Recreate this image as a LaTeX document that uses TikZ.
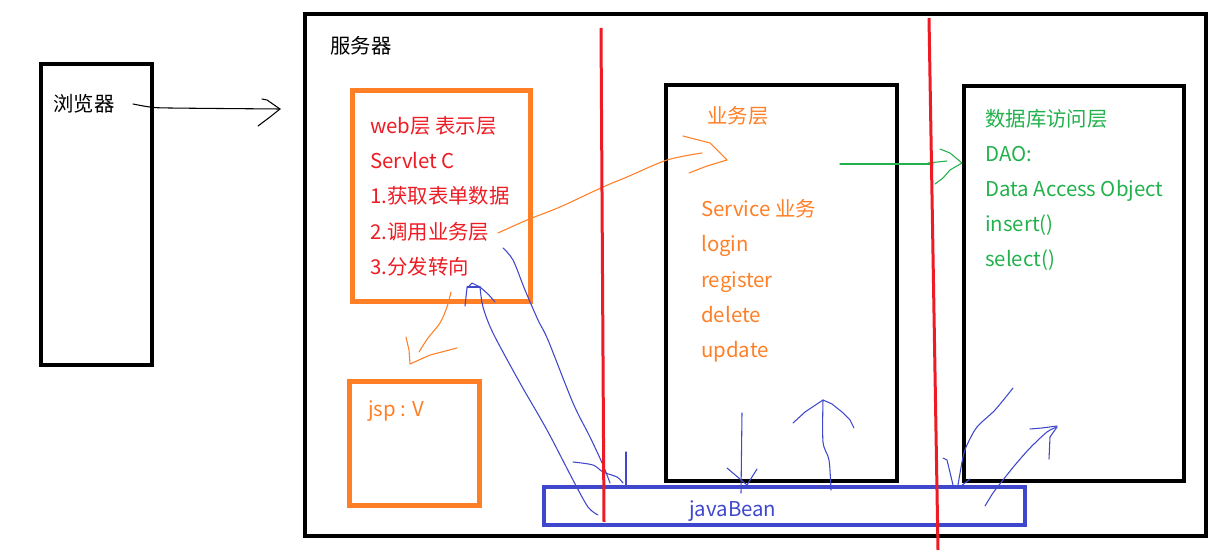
\documentclass[tikz,border=0pt]{standalone}
\usepackage{fontspec}
\setmainfont{Noto Sans CJK SC}
\definecolor{paintred}{HTML}{ED1C24}
\definecolor{paintorange}{HTML}{FF7F27}
\definecolor{paintgreen}{HTML}{22B14C}
\definecolor{paintblue}{HTML}{3F48CC}

\begin{document}
\begin{tikzpicture}[
    x=0.75pt, y=-0.75pt,
    frame/.style={line width=3pt, line join=miter},
    thickframe/.style={line width=3.75pt, line join=miter},
    sketch/.style={line width=0.8pt, line join=round, line cap=round},
    divider/.style={line width=2.25pt, paintred},
    lbl/.style={anchor=base west, inner sep=0pt, font=\fontsize{15.3}{17}\selectfont}
]

\useasboundingbox (0,0) rectangle (1228,556);

% 1. Browser and server frames
\draw[frame] (41,64) rectangle (152,365);
\draw[frame] (305,14) rectangle (1206,536);
\node[lbl] (browserlbl) at (53,112) {浏览器};
\node[lbl] (serverlbl) at (330,54) {服务器};

% 2. Web layer and jsp
\draw[thickframe, paintorange] (352,91) rectangle (530,301);
\draw[thickframe, paintorange] (349,381) rectangle (479,505);
\foreach \t [count=\i from 0] in {web层 表示层, Servlet C, 1.获取表单数据, 2.调用业务层, 3.分发转向}
    \node[lbl, paintred] (web\i) at (370,134+35*\i) {\t};
\node[lbl, paintorange] (jsp) at (368,416) {jsp : V};

% 3. Service and DAO layers
\draw[frame] (666,85) rectangle (897,481);
\draw[frame] (964,86) rectangle (1184,481);
\node[lbl, paintorange] (svctitle) at (707,124) {业务层};
\foreach \t [count=\i from 0] in {Service 业务, login, register, delete, update}
    \node[lbl, paintorange] (svc\i) at (701,217+35*\i) {\t};
\foreach \t [count=\i from 0] in {数据库访问层, DAO:, Data Access Object, insert(), select()}
    \node[lbl, paintgreen] (dao\i) at (985,127+35*\i) {\t};

% 4. javaBean bar
\draw[frame, paintblue] (544,487) rectangle (1025,525);
\node[lbl, paintblue] (bean) at (689,516) {javaBean};

% 5. Hand drawn arrows
% browser -> server
\draw[sketch] plot[smooth] coordinates {(133,104) (150,107) (170,108) (280,109)};
\draw[sketch] (262,99) -- (267,100) -- (280,109) -- (270,117) -- (258,126);
% web -> service
\draw[sketch, paintorange] plot[smooth] coordinates {(498,233) (527,220) (560,207) (603,187) (627,177) (667,160) (702,153)};
\draw[sketch, paintorange] (683,136) -- (710,143) -- (727,160) -- (707,166) -- (689,173);
% web -> jsp
\draw[sketch, paintorange] plot[smooth] coordinates {(451,292) (447,307) (440,323) (428,338) (419,352)};
\draw[sketch, paintorange] (406,337) -- (409,350) -- (410,364) -- (430,355) -- (457,348);
% service -> dao
\draw[sketch, paintgreen] (840,164) -- (933,164);
\draw[sketch, paintgreen] (928,163) -- (947,161);
\draw[sketch, paintgreen] (940,149) -- (950,153) -- (962,163) -- (950,170) -- (943,178) -- (935,184);

% javaBean <-> web
\draw[sketch, paintblue] plot[smooth] coordinates {(598,515) (588,507) (573,480) (547,430) (520,383) (493,333) (483,307) (480,287)};
\draw[sketch, paintblue] (465,306) -- (467,288) -- (472,283) -- (480,287) -- (488,294) -- (495,302);
\draw[sketch, paintblue] (467,287) -- (480,287);
\draw[sketch, paintblue] plot[smooth] coordinates {(503,248) (513,260) (525,290) (538,320) (548,340) (573,403) (590,437) (603,465) (610,483)};
\draw[sketch, paintblue] plot[smooth] coordinates {(573,462) (593,465) (603,472) (617,477) (623,483)};
\draw[sketch, paintblue] (626,452) -- (626,485);
% javaBean <-> service
\draw[sketch, paintblue] (742,413) -- (741,493);
\draw[sketch, paintblue] (727,468) -- (747,485) -- (757,469);
\draw[sketch, paintblue] plot[smooth] coordinates {(831,490) (829,460) (823,442) (823,400)};
\draw[sketch, paintblue] (793,423) -- (805,412) -- (817,404) -- (823,400) -- (832,404) -- (842,412) -- (850,420) -- (854,428);
% javaBean <-> dao
\draw[sketch, paintblue] plot[smooth] coordinates {(1013,388) (995,410) (977,427) (967,445) (963,457) (958,485)};
\draw[sketch, paintblue] (943,458) -- (947,460) -- (953,485);
\draw[sketch, paintblue] (970,479) -- (961,486);
\draw[sketch, paintblue] plot[smooth] coordinates {(985,506) (993,493) (1003,480) (1015,465) (1030,448) (1047,432) (1057,427)};
\draw[sketch, paintblue] (1030,429) -- (1042,428) -- (1057,426);
\draw[sketch, paintblue] (1057,427) -- (1050,437) -- (1049,459);

% 6. Red layer dividers
\draw[divider] (601,28) -- (604,522);
\draw[divider] (929,18) -- (938,550);

\end{tikzpicture}
\end{document}
